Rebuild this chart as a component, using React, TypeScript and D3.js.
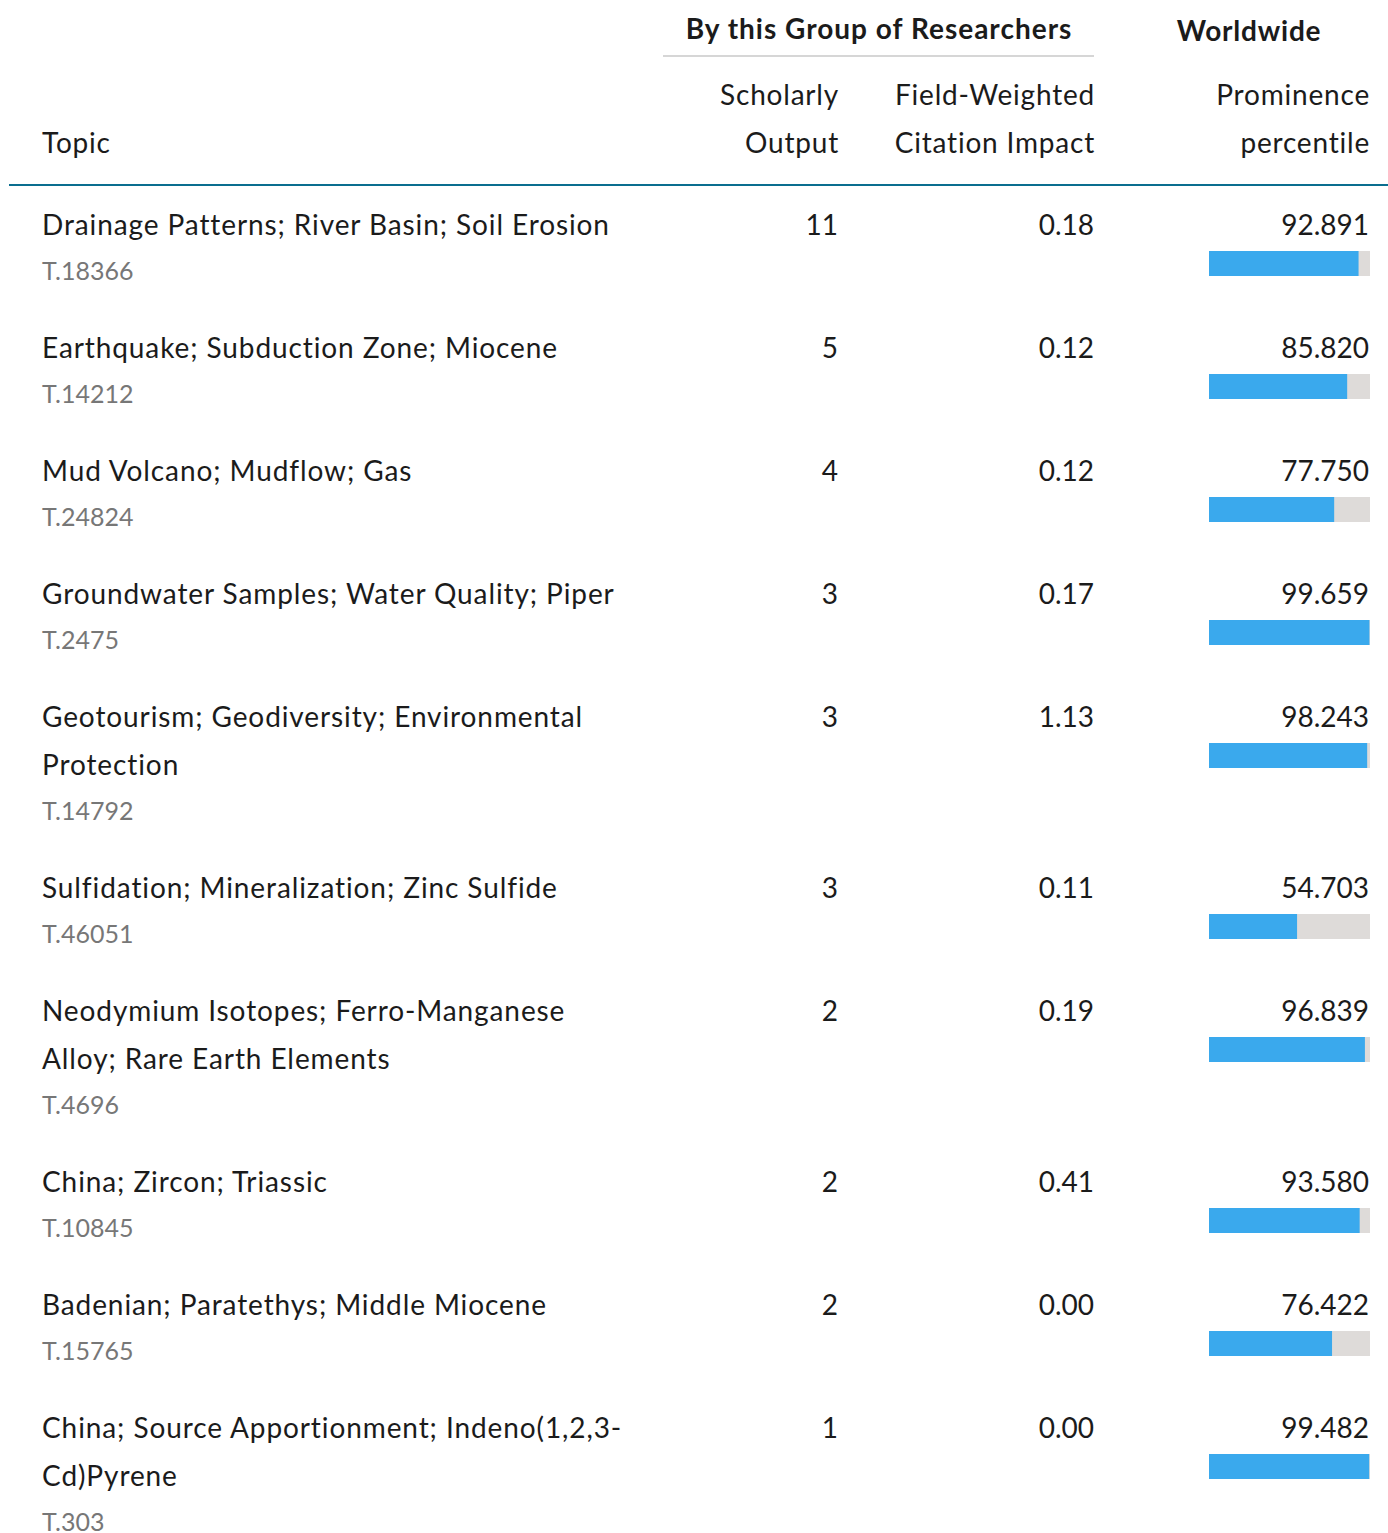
import React, { useEffect, useRef } from 'react';
import * as d3 from 'd3';

// topics as they wrap in the source table
const topicLines: string[][] = [
  ['Drainage Patterns; River Basin; Soil Erosion'],
  ['Earthquake; Subduction Zone; Miocene'],
  ['Mud Volcano; Mudflow; Gas'],
  ['Groundwater Samples; Water Quality; Piper'],
  ['Geotourism; Geodiversity; Environmental', 'Protection'],
  ['Sulfidation; Mineralization; Zinc Sulfide'],
  ['Neodymium Isotopes; Ferro-Manganese', 'Alloy; Rare Earth Elements'],
  ['China; Zircon; Triassic'],
  ['Badenian; Paratethys; Middle Miocene'],
  ['China; Source Apportionment; Indeno(1,2,3-', 'Cd)Pyrene'],
];
const topicIds = ['T.18366', 'T.14212', 'T.24824', 'T.2475', 'T.14792', 'T.46051', 'T.4696', 'T.10845', 'T.15765', 'T.303'];
const scholarlyOutput = [11, 5, 4, 3, 3, 3, 2, 2, 2, 1];
const fwci = [0.18, 0.12, 0.12, 0.17, 1.13, 0.11, 0.19, 0.41, 0.0, 0.0];
const prominence = [92.891, 85.82, 77.75, 99.659, 98.243, 54.703, 96.839, 93.58, 76.422, 99.482];

const W = 1388;
const H = 1533;
const FONT = "Lato, 'Noto Sans', sans-serif";

const App: React.FC = () => {
  const svgRef = useRef<SVGSVGElement>(null);

  useEffect(() => {
    if (!svgRef.current) return;
    const svg = d3.select(svgRef.current);
    svg.selectAll('*').remove();

    const colTopic = 42;
    const colOutput = 838;
    const colFwci = 1094;
    const colProm = 1369;
    const lineH = 48;
    const rowBase = 123;
    const firstCenter = 224;

    const barX = d3.scaleLinear().domain([0, 100]).range([1209, 1370]);

    // header
    const head = svg.append('g').style('font-family', FONT).style('fill', '#1b1b1b');
    head.append('text').attr('x', 879).attr('y', 39).attr('text-anchor', 'middle')
      .style('font-size', '28px').style('font-weight', 700).style('letter-spacing', '1px')
      .text('By this Group of Researchers');
    head.append('text').attr('x', 1249).attr('y', 41).attr('text-anchor', 'middle')
      .style('font-size', '28px').style('font-weight', 700).style('letter-spacing', '0.8px')
      .text('Worldwide');
    head.append('line').attr('x1', 663).attr('x2', 1094).attr('y1', 56).attr('y2', 56)
      .attr('stroke', '#d6d6d6').attr('stroke-width', 2);

    const sub = [
      { x: colOutput, lines: ['Scholarly', 'Output'] },
      { x: colFwci, lines: ['Field-Weighted', 'Citation Impact'] },
      { x: colProm, lines: ['Prominence', 'percentile'] },
    ];
    sub.forEach(s => {
      s.lines.forEach((l, i) => {
        head.append('text').attr('x', s.x + 1).attr('y', 105 + i * 48).attr('text-anchor', 'end')
          .style('font-size', '28px').style('letter-spacing', '0.8px').text(l);
      });
    });
    head.append('text').attr('x', colTopic).attr('y', 153).style('font-size', '28px')
      .style('letter-spacing', '0.8px').text('Topic');

    svg.append('line').attr('x1', 9).attr('x2', W).attr('y1', 185).attr('y2', 185)
      .attr('stroke', '#0a6e8f').attr('stroke-width', 2);

    // rows
    let center = firstCenter;
    topicLines.forEach((lines, i) => {
      const g = svg.append('g').style('font-family', FONT);
      const base = center + 11;
      lines.forEach((l, j) => {
        g.append('text').attr('x', colTopic).attr('y', base + j * lineH)
          .style('font-size', '28px').style('letter-spacing', '0.9px').style('fill', '#1b1b1b').text(l);
      });
      g.append('text').attr('x', colTopic).attr('y', base + (lines.length - 1) * lineH + 45)
        .style('font-size', '25px').style('fill', '#777').text(topicIds[i]);

      g.append('text').attr('x', colOutput).attr('y', base).attr('text-anchor', 'end')
        .style('font-size', '28px').style('fill', '#1b1b1b').text(String(scholarlyOutput[i]));
      g.append('text').attr('x', colFwci).attr('y', base).attr('text-anchor', 'end')
        .style('font-size', '28px').style('fill', '#1b1b1b').text(d3.format('.2f')(fwci[i]));
      g.append('text').attr('x', colProm).attr('y', base).attr('text-anchor', 'end')
        .style('font-size', '28px').style('fill', '#1b1b1b').text(d3.format('.3f')(prominence[i]));

      const barTop = center + 27;
      g.append('rect').attr('x', barX(0)).attr('y', barTop).attr('width', barX(100) - barX(0)).attr('height', 25)
        .attr('fill', '#dedbd9');
      g.append('rect').attr('x', barX(0)).attr('y', barTop).attr('width', barX(prominence[i]) - barX(0)).attr('height', 25)
        .attr('fill', '#3aa9ed');

      center += rowBase + (lines.length - 1) * lineH;
    });
  }, []);

  return (
    <svg ref={svgRef} width={W} height={H}
      style={{ position: 'absolute', left: 0, top: 0, background: '#fff' }} />
  );
};

export default App;
